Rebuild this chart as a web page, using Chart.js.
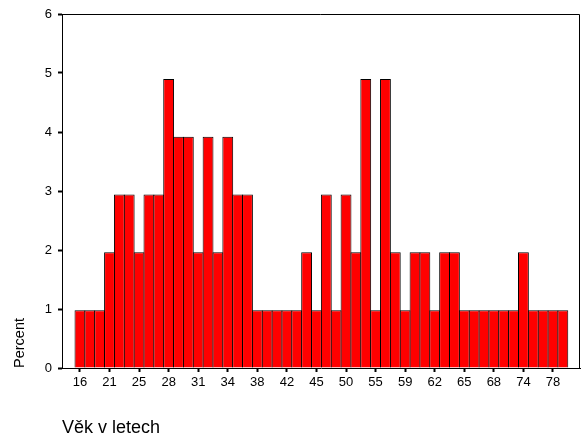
<!DOCTYPE html>
<html>
<head>
<meta charset="utf-8">
<script src="https://cdn.jsdelivr.net/npm/chart.js@4/dist/chart.umd.min.js"></script>
<style>
  html, body { margin: 0; padding: 0; background: #fff; }
  #wrap { width: 582px; height: 439px; }
</style>
</head>
<body>
<div id="wrap"><canvas id="myChart"></canvas></div>
<script>
// ages present in the data (only every 3rd one is labelled on the axis)
const ages = [16, 18, 20, 21, 22, 23, 25, 26, 27, 28, 29, 30, 31, 32, 33, 34, 35, 36, 38, 39,
              40, 42, 43, 44, 45, 47, 48, 50, 51, 53, 55, 56, 57, 59, 60, 61, 62, 63, 64, 65,
              66, 67, 68, 70, 72, 74, 75, 76, 78, 80];
// percent of respondents per age
const percent = [0.98, 0.98, 0.98, 1.96, 2.94, 2.94, 1.96, 2.94, 2.94, 4.90,
                 3.92, 3.92, 1.96, 3.92, 1.96, 3.92, 2.94, 2.94, 0.98, 0.98,
                 0.98, 0.98, 0.98, 1.96, 0.98, 2.94, 0.98, 2.94, 1.96, 4.90,
                 0.98, 4.90, 1.96, 0.98, 1.96, 1.96, 0.98, 1.96, 1.96, 0.98,
                 0.98, 0.98, 0.98, 0.98, 0.98, 1.96, 0.98, 0.98, 0.98, 0.98];
const yTicks = [0, 1, 2, 3, 4, 5, 6];

const labelledIdx = ages.map((a, i) => i).filter(i => i % 3 === 0);

Chart.defaults.font.family = "'Liberation Sans', Arial, sans-serif";
Chart.defaults.color = "#000";

const frame = {
  id: 'frame',
  afterDraw(chart) {
    const a = chart.chartArea, c = chart.ctx;
    c.save();
    c.strokeStyle = '#000';
    c.lineWidth = 1;
    c.beginPath();
    c.moveTo(a.left, a.top + 0.5);
    c.lineTo(a.right - 0.5, a.top + 0.5);
    c.lineTo(a.right - 0.5, a.bottom);
    c.stroke();
    c.restore();
  }
};

new Chart(document.getElementById('myChart'), {
  type: 'bar',
  data: {
    datasets: [{
      label: 'Percent',
      data: percent.map((p, i) => ({ x: i, y: p })),
      backgroundColor: '#ff0000',
      borderColor: '#000',
      borderWidth: 1,
      borderSkipped: 'bottom',
      barPercentage: 1.1,
      categoryPercentage: 1
    }]
  },
  options: {
    responsive: true,
    maintainAspectRatio: false,
    animation: false,
    layout: { padding: { top: 14, right: 2, left: 0, bottom: 0 } },
    plugins: { legend: { display: false }, tooltip: { enabled: false } },
    scales: {
      x: {
        type: 'linear',
        offset: false,
        min: -1.82,
        max: 50.74,
        afterFit: s => { s.height = 71; },
        afterBuildTicks: s => { s.ticks = labelledIdx.map(v => ({ value: v })); },
        border: { display: true, color: '#000', width: 1 },
        grid: { offset: false, drawOnChartArea: false, drawTicks: true, tickLength: 4, tickWidth: 2, tickColor: '#000' },
        ticks: {
          autoSkip: false, maxRotation: 0, padding: 3,
          font: { size: 13 },
          callback: v => ages[v]
        },
        title: {
          display: true, text: 'Věk v letech', align: 'start',
          font: { size: 18 }, padding: 0
        }
      },
      y: {
        min: 0,
        max: 6,
        afterFit: s => { s.width = 62; },
        afterBuildTicks: s => { s.ticks = yTicks.map(v => ({ value: v })); },
        border: { display: true, color: '#000', width: 1 },
        grid: { drawOnChartArea: false, drawTicks: true, tickLength: 4, tickWidth: 2, tickColor: '#000' },
        ticks: { padding: 6, font: { size: 13 } },
        title: {
          display: true, text: 'Percent', align: 'start',
          font: { size: 14.5 }, padding: { top: 11, bottom: 0 }
        }
      }
    }
  },
  plugins: [frame]
});
</script>
</body>
</html>
